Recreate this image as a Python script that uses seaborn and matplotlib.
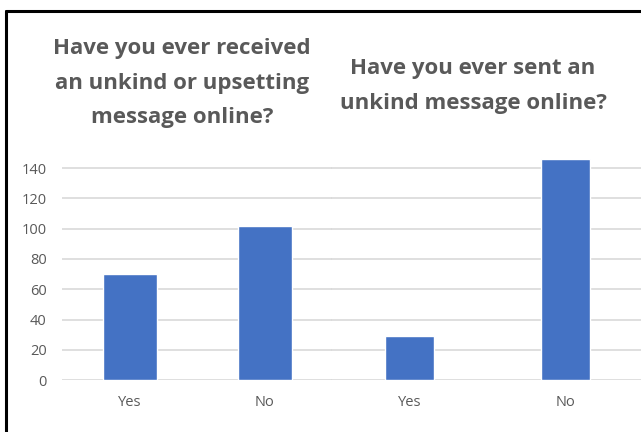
import pandas as pd
import matplotlib.pyplot as plt
import seaborn as sns
from matplotlib.lines import Line2D

# === Data ===
answers = ["Yes", "No"]
received_counts = [70, 102]
sent_counts = [29, 146]
titles = ["Have you ever received\nan unkind or upsetting\nmessage online?",
          "Have you ever sent an\nunkind message online?"]

df_received = pd.DataFrame({"answer": answers, "count": received_counts})
df_sent = pd.DataFrame({"answer": answers, "count": sent_counts})

# === Style ===
sns.set_theme(style="white")
plt.rcParams['font.family'] = ['Open Sans', 'DejaVu Sans']
bar_color = "#4472C4"
text_color = "#595959"
grid_color = "#D9D9D9"

fig = plt.figure(figsize=(6.41, 4.32), dpi=100)
ax1 = fig.add_axes([62 / 641, 52 / 432, 270 / 641, 242 / 432])
ax2 = fig.add_axes([331 / 641, 52 / 432, 313 / 641, 242 / 432])

sns.barplot(data=df_received, x="answer", y="count", color=bar_color,
            width=0.40, saturation=1, ax=ax1)
sns.barplot(data=df_sent, x="answer", y="count", color=bar_color,
            width=0.31, saturation=1, ax=ax2)

for ax in (ax1, ax2):
    ax.set_ylim(0, 160)
    ax.set_yticks(range(0, 141, 20))
    ax.yaxis.grid(True, color=grid_color, linewidth=1.2)
    ax.set_axisbelow(True)
    for s in ax.spines.values():
        s.set_visible(False)
    ax.set_xlabel("")
    ax.set_ylabel("")
    ax.tick_params(axis="both", length=0, labelsize=10.5, colors=text_color)
    ax.tick_params(axis="x", pad=11)
    ax.patch.set_alpha(0)

ax1.tick_params(axis="y", pad=11)
ax2.set_yticklabels([])

# titles placed above each panel
fig.text(182 / 641, 1 - 83 / 432, titles[0], ha="center", va="center",
         fontsize=16, fontweight="bold", color=text_color, linespacing=1.82)
fig.text(473 / 641, 1 - 86 / 432, titles[1], ha="center", va="center",
         fontsize=16, fontweight="bold", color=text_color, linespacing=1.82)

# black frame on left and top edges
fig.add_artist(Line2D([6 / 641, 6 / 641], [0, 1 - 11 / 432], color="black",
                      linewidth=2.2, transform=fig.transFigure))
fig.add_artist(Line2D([6 / 641, 1], [1 - 11 / 432, 1 - 11 / 432], color="black",
                      linewidth=2.2, transform=fig.transFigure))

fig.savefig("out.png", dpi=100)
